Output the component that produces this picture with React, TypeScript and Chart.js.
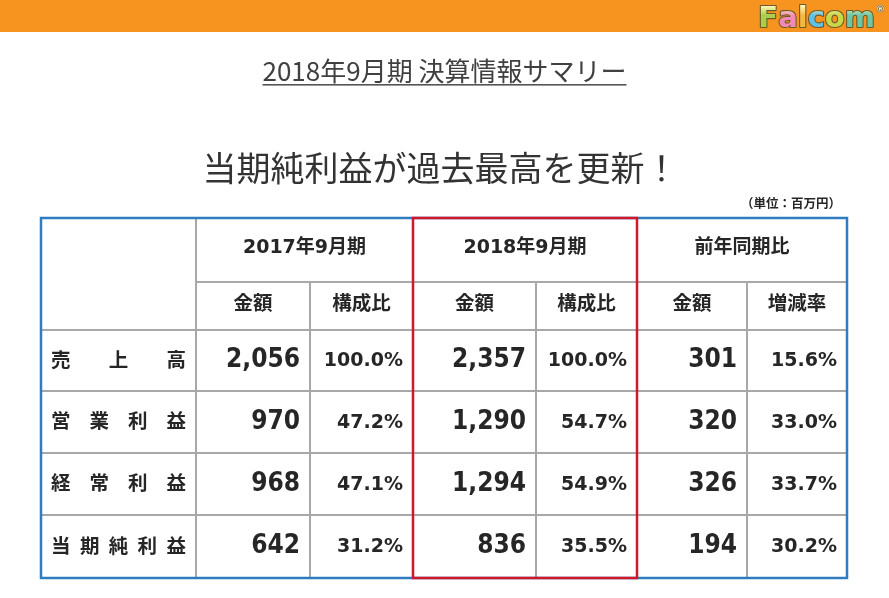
import React, { useEffect, useRef } from 'react';
import { Chart, registerables } from 'chart.js';

Chart.register(...registerables);

// ---- Text / data ----
const brandName = 'Falcom';
const pageTitle = '2018年9月期 決算情報サマリー';
const headline = '当期純利益が過去最高を更新！';
const unitNote = '（単位：百万円）';
const periods = ['2017年9月期', '2018年9月期', '前年同期比'];
const subHeaders = ['金額', '構成比', '金額', '構成比', '金額', '増減率'];
const metrics = ['売上高', '営業利益', '経常利益', '当期純利益'];
const amount2017 = [2056, 970, 968, 642];
const ratio2017 = [100.0, 47.2, 47.1, 31.2];
const amount2018 = [2357, 1290, 1294, 836];
const ratio2018 = [100.0, 54.7, 54.9, 35.5];
const yoyAmount = [301, 320, 326, 194];
const yoyRate = [15.6, 33.0, 33.7, 30.2];

// ---- Layout (table grid units) ----
const COL_W = [155, 114, 103, 123, 101, 110, 100];
const ROW_H = [64, 48, 61, 62, 62, 63];
const HIGHLIGHT_PERIOD = 1;

const cum = (arr: number[]) => arr.reduce((acc: number[], v) => { acc.push(acc[acc.length - 1] + v); return acc; }, [0]);
const COL_EDGES = cum(COL_W);
const ROW_EDGES = cum(ROW_H);

const valueColumns: { values: number[]; kind: 'amount' | 'ratio' }[] = [
  { values: amount2017, kind: 'amount' },
  { values: ratio2017, kind: 'ratio' },
  { values: amount2018, kind: 'amount' },
  { values: ratio2018, kind: 'ratio' },
  { values: yoyAmount, kind: 'amount' },
  { values: yoyRate, kind: 'ratio' },
];

const CJK = '"Noto Sans CJK JP", "Noto Sans CJK SC", sans-serif';
const TEXT = '#262626';
const GRAY = '#A8A8A8';
const BLUE = '#2F7DC0';
const RED = '#D0182C';

function drawDistributed(ctx: CanvasRenderingContext2D, text: string, left: number, right: number, y: number) {
  const chars = Array.from(text);
  const widths = chars.map((c) => ctx.measureText(c).width);
  const total = widths.reduce((a, b) => a + b, 0);
  ctx.textAlign = 'left';
  if (chars.length === 1) {
    ctx.fillText(chars[0], (left + right - total) / 2, y);
    return;
  }
  const gap = (right - left - total) / (chars.length - 1);
  let x = left;
  chars.forEach((c, i) => {
    ctx.fillText(c, x, y);
    x += widths[i] + gap;
  });
}

function drawLogo(ctx: CanvasRenderingContext2D, right: number, top: number) {
  const letterColors = ['#A8CF45', '#F08BB8', '#F5B843', '#5EC0E6', '#C9D84A', '#6CC7A8'];
  ctx.save();
  ctx.font = 'bold 29px "DejaVu Sans", sans-serif';
  ctx.textBaseline = 'alphabetic';
  ctx.textAlign = 'left';
  const chars = Array.from(brandName);
  const widths = chars.map((c) => ctx.measureText(c).width);
  const total = widths.reduce((a, b) => a + b, 0);
  let x = right - total;
  const base = top + 23;
  chars.forEach((c, i) => {
    const g = ctx.createLinearGradient(0, base - 21, 0, base);
    g.addColorStop(0, '#FFF6B0');
    g.addColorStop(0.45, letterColors[i]);
    g.addColorStop(1, letterColors[i]);
    ctx.lineWidth = 2.2;
    ctx.strokeStyle = '#6B5A2A';
    ctx.lineJoin = 'round';
    ctx.strokeText(c, x, base);
    ctx.fillStyle = g;
    ctx.fillText(c, x, base);
    x += widths[i];
  });
  ctx.font = 'bold 9px "DejaVu Sans", sans-serif';
  ctx.fillStyle = '#FFFFFF';
  ctx.strokeStyle = '#6B5A2A';
  ctx.lineWidth = 1;
  ctx.strokeText('®', x + 1, top + 8);
  ctx.fillText('®', x + 1, top + 8);
  ctx.restore();
}

const tablePlugin = {
  id: 'summaryTable',
  beforeDraw(chart: any) {
    const ctx: CanvasRenderingContext2D = chart.ctx;
    const W = chart.width;
    ctx.save();
    ctx.fillStyle = '#FFFFFF';
    ctx.fillRect(0, 0, W, chart.height);
    // orange banner
    ctx.fillStyle = '#F7941F';
    ctx.fillRect(0, 0, W, 32);
    ctx.restore();
    drawLogo(ctx, W - 14, 4);

    ctx.save();
    // page title (underlined)
    ctx.font = `400 26px ${CJK}`;
    ctx.fillStyle = '#404040';
    ctx.textAlign = 'center';
    ctx.textBaseline = 'middle';
    const cx = W / 2;
    ctx.fillText(pageTitle, cx, 71);
    const tw = ctx.measureText(pageTitle).width;
    ctx.fillStyle = '#555555';
    ctx.fillRect(cx - tw / 2, 84, tw, 1.6);

    // headline
    ctx.font = `400 34px ${CJK}`;
    ctx.fillStyle = '#333333';
    ctx.fillText(headline, cx - 4, 168);

    // unit note
    ctx.font = `bold 12.5px ${CJK}`;
    ctx.fillStyle = TEXT;
    ctx.textAlign = 'right';
    ctx.fillText(unitNote, chart.chartArea.right - 6, 203);
    ctx.restore();
  },
  afterDraw(chart: any) {
    const ctx: CanvasRenderingContext2D = chart.ctx;
    const xs = chart.scales.x;
    const ys = chart.scales.y;
    const X = (v: number) => xs.getPixelForValue(v);
    const Y = (v: number) => ys.getPixelForValue(v);
    const nCols = COL_W.length;
    const nRows = ROW_H.length;
    const xL = X(COL_EDGES[0]);
    const xR = X(COL_EDGES[nCols]);
    const yT = Y(ROW_EDGES[0]);
    const yB = Y(ROW_EDGES[nRows]);

    ctx.save();
    // grey inner grid
    ctx.strokeStyle = GRAY;
    ctx.lineWidth = 2;
    ctx.beginPath();
    ctx.moveTo(X(COL_EDGES[1]), yT);
    ctx.lineTo(X(COL_EDGES[1]), yB);
    for (let c = 2; c < nCols; c++) {
      ctx.moveTo(X(COL_EDGES[c]), Y(ROW_EDGES[1]));
      ctx.lineTo(X(COL_EDGES[c]), yB);
    }
    ctx.moveTo(X(COL_EDGES[1]), Y(ROW_EDGES[1]));
    ctx.lineTo(xR, Y(ROW_EDGES[1]));
    for (let r = 2; r < nRows; r++) {
      ctx.moveTo(xL, Y(ROW_EDGES[r]));
      ctx.lineTo(xR, Y(ROW_EDGES[r]));
    }
    ctx.stroke();

    // outer blue border
    ctx.strokeStyle = BLUE;
    ctx.lineWidth = 2.5;
    ctx.strokeRect(xL, yT, xR - xL, yB - yT);

    // red highlight for the current period
    const hc = 1 + HIGHLIGHT_PERIOD * 2;
    ctx.strokeStyle = RED;
    ctx.lineWidth = 2.5;
    ctx.strokeRect(X(COL_EDGES[hc]), yT, X(COL_EDGES[hc + 2]) - X(COL_EDGES[hc]), yB - yT);

    ctx.fillStyle = TEXT;
    // period headers
    ctx.font = `bold 19px "DejaVu Sans", ${CJK}`;
    ctx.textAlign = 'center';
    ctx.textBaseline = 'middle';
    periods.forEach((p, i) => {
      const c0 = 1 + i * 2;
      const cxp = (X(COL_EDGES[c0]) + X(COL_EDGES[c0 + 2])) / 2;
      const cyp = (Y(ROW_EDGES[0]) + Y(ROW_EDGES[1])) / 2;
      ctx.fillText(p, cxp, cyp - 2);
    });
    // sub headers
    ctx.font = `bold 19.5px ${CJK}`;
    subHeaders.forEach((s, i) => {
      const cxs = (X(COL_EDGES[i + 1]) + X(COL_EDGES[i + 2])) / 2;
      const cys = (Y(ROW_EDGES[1]) + Y(ROW_EDGES[2])) / 2;
      ctx.fillText(s, cxs, cys - 3);
    });

    // data rows
    metrics.forEach((m, r) => {
      const top = Y(ROW_EDGES[r + 2]);
      const bot = Y(ROW_EDGES[r + 3]);
      const cy = (top + bot) / 2;
      ctx.font = `bold 19.5px ${CJK}`;
      ctx.textBaseline = 'middle';
      drawDistributed(ctx, m, X(COL_EDGES[0]) + 10, X(COL_EDGES[1]) - 10, cy - 1);

      valueColumns.forEach((col, ci) => {
        const right = X(COL_EDGES[ci + 2]) - 10;
        const v = col.values[r];
        ctx.textAlign = 'right';
        ctx.textBaseline = 'alphabetic';
        if (col.kind === 'amount') {
          ctx.font = 'bold 26px "DejaVu Sans Condensed", "DejaVu Sans", sans-serif';
          ctx.fillText(v.toLocaleString('en-US'), right, cy + 6.5);
        } else {
          ctx.font = 'bold 19px "DejaVu Sans", sans-serif';
          ctx.fillText(v.toFixed(1) + '%', right, cy + 5.5);
        }
      });
    });
    ctx.restore();
  },
};

export default function App() {
  const canvasRef = useRef<HTMLCanvasElement | null>(null);

  useEffect(() => {
    const canvas = canvasRef.current;
    if (!canvas) return;
    const totalW = COL_EDGES[COL_EDGES.length - 1];
    const totalH = ROW_EDGES[ROW_EDGES.length - 1];
    const chart = new Chart(canvas, {
      type: 'scatter',
      data: { datasets: [{ data: [], pointRadius: 0 }] },
      options: {
        animation: false,
        responsive: false,
        maintainAspectRatio: false,
        devicePixelRatio: 1,
        events: [],
        layout: { padding: { left: 41, right: 42, top: 218, bottom: 20 } },
        scales: {
          x: { type: 'linear', min: 0, max: totalW, display: false },
          y: { type: 'linear', min: 0, max: totalH, reverse: true, display: false },
        },
        plugins: {
          legend: { display: false },
          tooltip: { enabled: false },
          title: { display: false },
        },
      },
      plugins: [tablePlugin],
    } as any);
    return () => chart.destroy();
  }, []);

  return (
    <div style={{ position: 'fixed', left: 0, top: 0, width: 889, height: 598, background: '#fff' }}>
      <canvas ref={canvasRef} width={889} height={598} style={{ display: 'block', width: 889, height: 598 }} />
    </div>
  );
}
